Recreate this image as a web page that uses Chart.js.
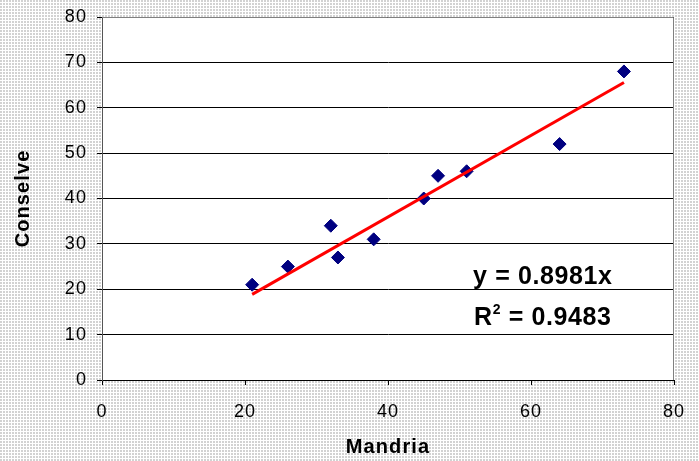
<!DOCTYPE html>
<html>
<head>
<meta charset="utf-8">
<script src="https://cdn.jsdelivr.net/npm/chart.js@4.4.1/dist/chart.umd.min.js"></script>
<style>
  body { margin: 0; background: #fff; }
  canvas { display: block; }
</style>
</head>
<body>
<canvas id="scatterChart" width="699" height="461"></canvas>
<script>
// Mandria (x) vs Conselve (y)
const mandria = [21, 26, 32, 33, 38, 45, 47, 51, 64, 73];
const conselve = [21, 25, 34, 27, 31, 40, 45, 46, 52, 68];

// trendline y = 0.8981x, drawn over the data range
const trendX = [21, 73];
const trendY = [18.86, 65.56];

const equationText = "y = 0.8981x";
const rSquaredText = "0.9483";

const xTicks = [0, 20, 40, 60, 80];
const yTicks = [0, 10, 20, 30, 40, 50, 60, 70, 80];

const FONT = "'Liberation Sans', Arial, sans-serif";

function makePattern(ctx) {
  const tile = document.createElement("canvas");
  tile.width = 3;
  tile.height = 3;
  const t = tile.getContext("2d");
  t.fillStyle = "#ffffff";
  t.fillRect(0, 0, 3, 3);
  t.fillStyle = "#d2d2d2";
  t.fillRect(0, 0, 2, 2);
  return ctx.createPattern(tile, "repeat");
}

const backgroundPlugin = {
  id: "background",
  beforeDraw(chart) {
    const { ctx, chartArea } = chart;
    ctx.letterSpacing = "1.1px";
    ctx.save();
    ctx.fillStyle = makePattern(ctx);
    ctx.fillRect(0, 0, chart.width, chart.height);
    ctx.fillStyle = "#ffffff";
    ctx.fillRect(chartArea.left, chartArea.top,
      chartArea.right - chartArea.left, chartArea.bottom - chartArea.top);
    ctx.restore();
  },
  afterDraw(chart) {
    const { ctx, chartArea } = chart;
    // grey frame on top and right of the plot area
    ctx.save();
    ctx.strokeStyle = "#808080";
    ctx.lineWidth = 1;
    ctx.beginPath();
    ctx.moveTo(chartArea.left, chartArea.top + 0.5);
    ctx.lineTo(chartArea.right - 0.5, chartArea.top + 0.5);
    ctx.lineTo(chartArea.right - 0.5, chartArea.bottom);
    ctx.stroke();
    ctx.restore();
  }
};

const equationPlugin = {
  id: "equation",
  afterDatasetsDraw(chart) {
    const { ctx } = chart;
    const xs = chart.scales.x;
    const ys = chart.scales.y;
    const left = xs.getPixelForValue(51.9);
    const line1 = ys.getPixelForValue(21.2);
    const line2 = ys.getPixelForValue(12.2);
    ctx.save();
    ctx.fillStyle = "#000";
    ctx.textAlign = "left";
    ctx.textBaseline = "alphabetic";
    ctx.letterSpacing = "0.6px";
    ctx.font = "bold 25px " + FONT;
    ctx.fillText(equationText, left, line1);
    ctx.fillText("R", left + 1, line2);
    let w = ctx.measureText("R").width + 1;
    ctx.font = "bold 14px " + FONT;
    ctx.fillText("2", left + w, line2 - 11);
    w += ctx.measureText("2").width;
    ctx.font = "bold 25px " + FONT;
    ctx.fillText(" = " + rSquaredText, left + w, line2);
    ctx.restore();
  }
};

const ctx = document.getElementById("scatterChart");

new Chart(ctx, {
  type: "scatter",
  data: {
    datasets: [
      {
        label: "Conselve",
        data: mandria.map((x, i) => ({ x: x, y: conselve[i] })),
        pointStyle: "rectRot",
        pointRadius: 6.5,
        pointHoverRadius: 6.5,
        backgroundColor: "#000080",
        borderColor: "#000080",
        borderWidth: 1,
        order: 1
      },
      {
        label: "Trend",
        data: trendX.map((x, i) => ({ x: x, y: trendY[i] })),
        showLine: true,
        borderColor: "#ff0000",
        borderWidth: 3,
        pointRadius: 0,
        order: 0
      }
    ]
  },
  options: {
    responsive: false,
    animation: false,
    events: [],
    layout: { padding: { top: 17, right: 25, left: 0, bottom: 0 } },
    plugins: {
      legend: { display: false },
      tooltip: { enabled: false }
    },
    scales: {
      x: {
        type: "linear",
        min: 0,
        max: 80,
        afterBuildTicks(scale) { scale.ticks = xTicks.map(v => ({ value: v })); },
        afterFit(scale) {
          scale.height = 81;
          scale.paddingLeft = 0;
          scale.paddingRight = 0;
        },
        grid: { display: true, drawOnChartArea: false, color: "#000", tickLength: 5, tickColor: "#000" },
        border: { color: "#000", width: 1 },
        ticks: { color: "#000", font: { family: FONT, size: 18 }, padding: 16, maxRotation: 0 },
        title: {
          display: true,
          text: "Mandria",
          color: "#000",
          font: { family: FONT, size: 20, weight: "bold" },
          padding: { top: 2, bottom: 2 }
        }
      },
      y: {
        type: "linear",
        min: 0,
        max: 80,
        afterBuildTicks(scale) { scale.ticks = yTicks.map(v => ({ value: v })); },
        afterFit(scale) {
          scale.width = 102;
          scale.paddingTop = 0;
          scale.paddingBottom = 0;
        },
        grid: { color: "#000", tickLength: 5, tickColor: "#000" },
        border: { color: "#555", width: 1 },
        ticks: { color: "#000", font: { family: FONT, size: 18 }, padding: 10 },
        title: {
          display: true,
          text: "Conselve",
          color: "#000",
          font: { family: FONT, size: 20, weight: "bold" },
          padding: { top: 11, bottom: 11 }
        }
      }
    }
  },
  plugins: [backgroundPlugin, equationPlugin]
});
</script>
</body>
</html>
